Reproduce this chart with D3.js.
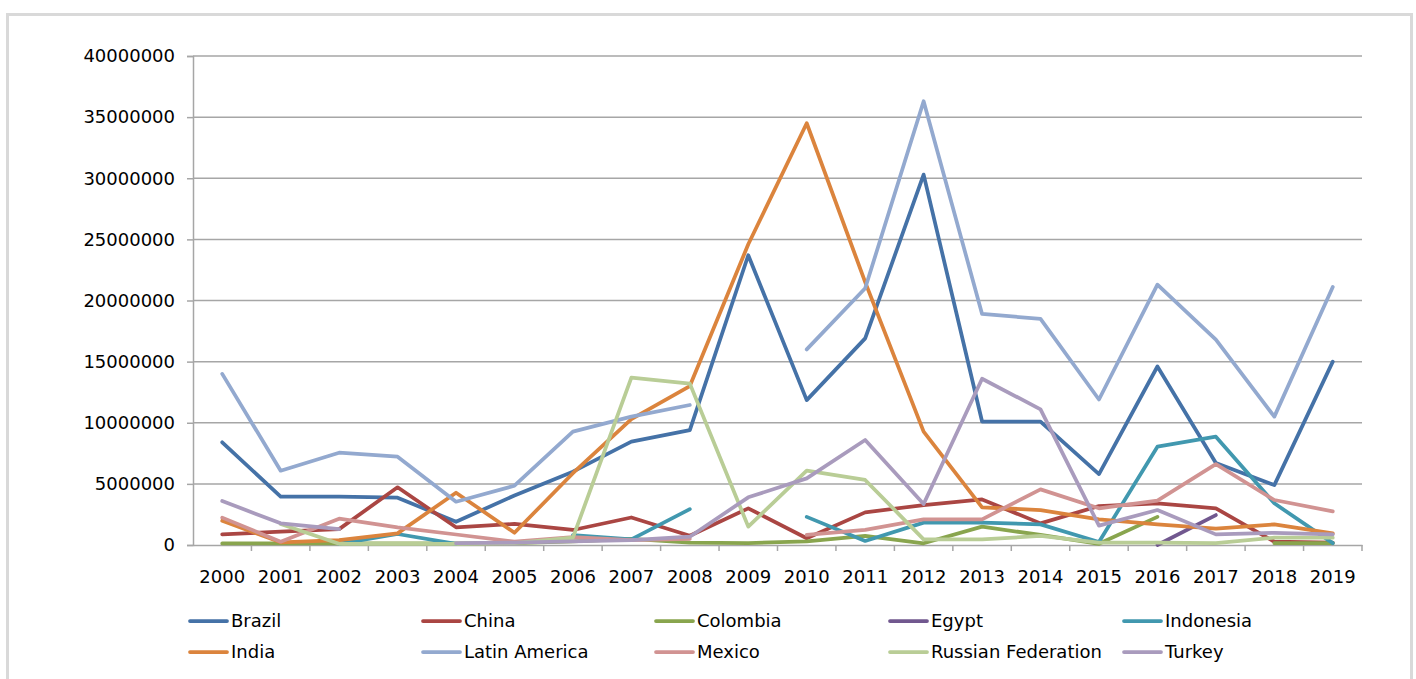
<!DOCTYPE html>
<html>
<head>
<meta charset="utf-8">
<script src="https://cdn.jsdelivr.net/npm/d3@7"></script>
<style>
  body { margin: 0; background: #fff; }
  svg { font-family: "DejaVu Sans", Verdana, sans-serif; }
</style>
</head>
<body>
<svg id="chart" width="1416" height="679"></svg>
<script>
// chart data (null = no value that year)
var years = ['2000','2001','2002','2003','2004','2005','2006','2007','2008','2009',
             '2010','2011','2012','2013','2014','2015','2016','2017','2018','2019']

var brazil    = [8.4, 3.95, 3.95, 3.87, 1.9, 4.05, 6.0, 8.45, 9.4, 23.7, 11.85, 16.9, 30.3, 10.1, 10.1, 5.8, 14.6, 6.7, 4.9, 15.0]
var china     = [0.87, 1.09, 1.3, 4.72, 1.45, 1.72, 1.23, 2.25, 0.76, 3.0, 0.55, 2.67, 3.27, 3.73, 1.77, 3.19, 3.41, 3.0, 0.27, 0.2]
var colombia  = [0.13, 0.13, 0.13, 0.13, 0.13, 0.15, 0.3, 0.5, 0.2, 0.15, 0.3, 0.74, 0.14, 1.5, 0.82, 0.1, 2.3, null, 0.15, 0.15]
var egypt     = [null, null, null, null, null, null, null, null, null, null, null, null, null, null, null, null, 0, 2.45, null, null]
var indonesia = [null, null, 0.1, 0.9, 0.1, null, 0.8, 0.46, 2.93, null, 2.3, 0.33, 1.83, 1.83, 1.69, 0.25, 8.04, 8.86, 3.41, 0.15]
var india     = [1.98, 0.22, 0.4, 0.95, 4.28, 1.0, 5.87, 10.3, 13.0, 24.6, 34.5, 21.5, 9.27, 3.08, 2.86, 2.1, 1.69, 1.33, 1.69, 0.95]
var latinAm   = [14.0, 6.08, 7.55, 7.22, 3.54, 4.85, 9.27, 10.5, 11.45, null, 16.0, 21.0, 36.3, 18.9, 18.5, 11.9, 21.3, 16.8, 10.5, 21.1]
var mexico    = [2.24, 0.27, 2.15, 1.45, 0.86, 0.27, 0.65, 0.4, 0.5, null, 0.82, 1.23, 2.1, 2.1, 4.55, 3.0, 3.63, 6.62, 3.68, 2.75]
var russia    = [null, 1.72, 0.1, 0.1, 0.1, 0.15, 0.6, 13.7, 13.2, 1.5, 6.08, 5.32, 0.46, 0.46, 0.74, 0.2, 0.2, 0.15, 0.6, 0.6]
var turkey    = [3.6, 1.77, 1.3, null, 0.15, 0.2, 0.3, 0.4, 0.68, 3.9, 5.45, 8.59, 3.35, 13.6, 11.1, 1.58, 2.86, 0.87, 1.0, 0.87]

var yTicks = [0, 5000000, 10000000, 15000000, 20000000, 25000000, 30000000, 35000000, 40000000]

var series = [
    {name: 'Brazil', values: brazil, color: '#4572A7'},
    {name: 'China', values: china, color: '#AA4643'},
    {name: 'Colombia', values: colombia, color: '#89A54E'},
    {name: 'Egypt', values: egypt, color: '#71588F'},
    {name: 'Indonesia', values: indonesia, color: '#4198AF'},
    {name: 'India', values: india, color: '#DB843D'},
    {name: 'Latin America', values: latinAm, color: '#93A9CF'},
    {name: 'Mexico', values: mexico, color: '#D19392'},
    {name: 'Russian Federation', values: russia, color: '#B9CD96'},
    {name: 'Turkey', values: turkey, color: '#A99BBD'}
]

var svg = d3.select('#chart')

// outer frame
svg.append('rect')
    .attr('x', 7.5).attr('y', 14.5)
    .attr('width', 1404).attr('height', 700)
    .attr('fill', 'none')
    .attr('stroke', '#d9d9d9')
    .attr('stroke-width', 3)

// plot box (don't call it "top", that one is taken by window)
var plotL = 193, plotR = 1362, plotT = 56, plotB = 545

var x = d3.scaleBand().domain(years).range([plotL, plotR])
var y = d3.scaleLinear().domain([0, 40000000]).range([plotB, plotT])

// gridlines
svg.append('g')
    .selectAll('line')
    .data(yTicks.slice(1))
    .join('line')
    .attr('x1', plotL).attr('x2', plotR)
    .attr('y1', d => y(d)).attr('y2', d => y(d))
    .attr('stroke', '#a6a6a6')
    .attr('stroke-width', 1.5)

// y axis
var yAxis = svg.append('g')
    .attr('transform', `translate(${plotL},0)`)
    .call(d3.axisLeft(y).tickValues(yTicks).tickSize(6).tickPadding(12).tickFormat(d3.format('d')))
yAxis.select('.domain').attr('stroke', '#a6a6a6').attr('stroke-width', 1.5)
yAxis.selectAll('.tick line').attr('stroke', '#a6a6a6').attr('stroke-width', 1.5)
yAxis.selectAll('text').attr('font-size', 18).attr('fill', '#000')
    .attr('font-family', '"DejaVu Sans", Verdana, sans-serif')

// x axis: ticks sit between the categories
var xAxis = svg.append('g')
    .attr('transform', `translate(0,${plotB})`)
    .call(d3.axisBottom(x).tickSize(0).tickPadding(25))
xAxis.select('.domain').attr('stroke', '#a6a6a6').attr('stroke-width', 1.5)
xAxis.selectAll('text').attr('font-size', 18).attr('fill', '#000')
    .attr('font-family', '"DejaVu Sans", Verdana, sans-serif')
xAxis.selectAll('.sep')
    .data(years)
    .join('line')
    .classed('sep', true)
    .attr('x1', d => x(d) + x.bandwidth())
    .attr('x2', d => x(d) + x.bandwidth())
    .attr('y1', 0).attr('y2', 6)
    .attr('stroke', '#a6a6a6')
    .attr('stroke-width', 1.5)

// series lines
var line = d3.line()
    .defined(d => d != null)
    .x((d, i) => x(years[i]) + x.bandwidth() / 2)
    .y(d => y(d * 1000000))

svg.append('g')
    .selectAll('path')
    .data(series)
    .join('path')
    .attr('d', d => line(d.values))
    .attr('fill', 'none')
    .attr('stroke', d => d.color)
    .attr('stroke-width', 3.75)
    .attr('stroke-linejoin', 'round')
    .attr('stroke-linecap', 'round')

// legend, 5 columns x 2 rows
var colX = [231, 464, 697, 931, 1165]
var rowY = [621, 652]

var legend = svg.append('g')
    .selectAll('g')
    .data(series)
    .join('g')
    .attr('transform', (d, i) => `translate(${colX[i % 5]},${rowY[Math.floor(i / 5)]})`)

legend.append('line')
    .attr('x1', -41).attr('x2', -4)
    .attr('y1', 0).attr('y2', 0)
    .attr('stroke', d => d.color)
    .attr('stroke-width', 3.75)
    .attr('stroke-linecap', 'round')

legend.append('text')
    .attr('x', 0).attr('y', 0)
    .attr('dy', '0.35em')
    .attr('font-size', 18)
    .attr('fill', '#000')
    .text(d => d.name)
</script>
</body>
</html>
